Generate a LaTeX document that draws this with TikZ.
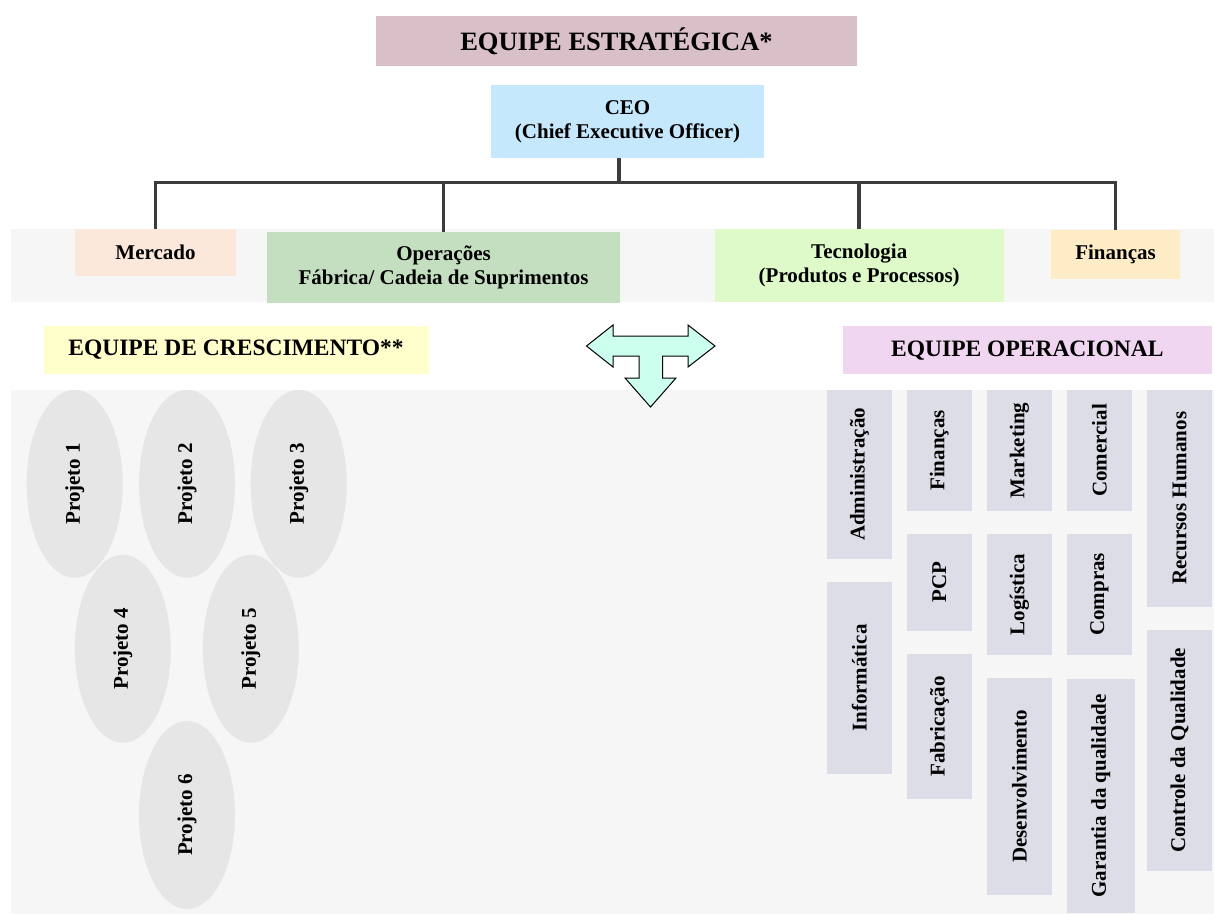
\documentclass[tikz,border=0pt]{standalone}
\usepackage{fontspec}
\setmainfont{Liberation Serif}
\usetikzlibrary{shapes.geometric}
\definecolor{bandgray}{HTML}{F6F6F6}
\definecolor{titlecol}{HTML}{D8BFC8}
\definecolor{ceocol}{HTML}{C6E8FC}
\definecolor{mercol}{HTML}{FBE8DA}
\definecolor{opscol}{HTML}{C4DFC0}
\definecolor{teccol}{HTML}{DEFAC8}
\definecolor{fincol}{HTML}{FDECC6}
\definecolor{growcol}{HTML}{FFFFCC}
\definecolor{opercol}{HTML}{F0D6F0}
\definecolor{arrowcol}{HTML}{CCFFEE}
\definecolor{deptcol}{HTML}{DDDDE8}
\definecolor{projcol}{HTML}{E6E6E6}
\definecolor{linecol}{HTML}{3C3C3C}
\begin{document}
\begin{tikzpicture}[x=1pt,y=-1pt,
  txt/.style={font=\fontsize{21}{24}\selectfont\bfseries},
  box/.style={rectangle, inner sep=0pt, align=center, txt},
  head/.style={box, font=\fontsize{23.5}{26}\selectfont\bfseries},
  dept/.style={box, fill=deptcol, rotate=90},
  proj/.style={ellipse, fill=projcol, inner sep=0pt, rotate=90, txt,
               minimum width=188pt, minimum height=96pt},
  conn/.style={draw=linecol, line width=3.5pt}]
\useasboundingbox (0,0) rectangle (1214,914);

% background bands
\fill[bandgray] (11,229) rectangle (1214,302);
\fill[bandgray] (11,390) rectangle (1214,914);

% strategic team
\node[box, fill=titlecol, minimum width=481pt, minimum height=50pt,
      font=\fontsize{26.5}{30}\selectfont\bfseries] (title) at (616.5,41) {EQUIPE ESTRATÉGICA*};
\node[box, fill=ceocol, minimum width=273pt, minimum height=73pt] (ceo) at (627.5,121.5)
  {CEO\\(Chief Executive Officer)};

\node[box, fill=mercol, minimum width=161pt, minimum height=47pt] (merc) at (155.5,252.5) {Mercado};
\node[box, fill=opscol, minimum width=353pt, minimum height=71pt] (ops) at (443.5,267.5)
  {Operações\\Fábrica/ Cadeia de Suprimentos};
\node[box, fill=teccol, minimum width=289pt, minimum height=72.7pt] (tec) at (859.2,265.35)
  {Tecnologia\\(Produtos e Processos)};
\node[box, fill=fincol, minimum width=129pt, minimum height=49pt] (fin) at (1115.5,254.5) {Finanças};

% reporting lines
\coordinate (bus) at (619,182.5);
\draw[conn] (bus |- ceo.south) -- (bus);
\draw[conn] (merc.north) |- (bus) -| (fin.north);
\draw[conn] (ops.north) -- (ops.north |- bus);
\draw[conn] (tec.north) -- (tec.north |- bus);

% section headers
\node[head, fill=growcol, minimum width=385pt, minimum height=48.3pt] (grow) at (236,349.85)
  {EQUIPE DE CRESCIMENTO**};
\node[head, fill=opercol, minimum width=369.3pt, minimum height=48.3pt] (oper) at (1027.35,350.15)
  {EQUIPE OPERACIONAL};

% three-way arrow
\draw[fill=arrowcol, draw=black, line width=1pt, line join=miter]
  (613,325) -- (586.5,346) -- (613,367) -- (613,356) -- (639,356) -- (639,378)
  -- (625,378) -- (650.5,407) -- (676,378) -- (662.6,378) -- (662.6,356)
  -- (688,356) -- (688,367) -- (715,346) -- (688,325) -- (688,336)
  -- (613,336) -- cycle;

% growth projects
\node[proj] (p1) at (74.7,483.8) {Projeto 1};
\node[proj] (p2) at (187,483.8) {Projeto 2};
\node[proj] (p3) at (298.7,483.8) {Projeto 3};
\node[proj] (p4) at (122.8,648.7) {Projeto 4};
\node[proj] (p5) at (250.8,648.7) {Projeto 5};
\node[proj] (p6) at (187,815) {Projeto 6};

% operational departments (width = box height, height = box width)
\node[dept, minimum width=168.7pt, minimum height=65.3pt] (adm) at (859.35,474.35) {Administração};
\node[dept, minimum width=192.6pt, minimum height=65.3pt] (inf) at (859.35,678) {Informática};
\node[dept, minimum width=121pt, minimum height=65.3pt] (fin2) at (939.35,450.5) {Finanças};
\node[dept, minimum width=96.7pt, minimum height=65.3pt] (pcp) at (939.35,582.35) {PCP};
\node[dept, minimum width=144.7pt, minimum height=65.3pt] (fab) at (939.35,726.35) {Fabricação};
\node[dept, minimum width=121pt, minimum height=65pt] (mkt) at (1019.5,450.5) {Marketing};
\node[dept, minimum width=120.7pt, minimum height=65pt] (log) at (1019.5,594.35) {Logística};
\node[dept, minimum width=216.7pt, minimum height=65pt] (des) at (1019.5,786.35) {Desenvolvimento};
\node[dept, minimum width=121pt, minimum height=65pt] (com) at (1099.5,450.5) {Comercial};
\node[dept, minimum width=120.7pt, minimum height=65pt] (cpr) at (1099.5,594.35) {Compras};
\node[dept, minimum width=233.7pt, minimum height=67.7pt] (gar) at (1100.85,795.85) {Garantia da qualidade};
\node[dept, minimum width=216.7pt, minimum height=65pt] (rh) at (1179.5,498.35) {Recursos Humanos};
\node[dept, minimum width=240.7pt, minimum height=65pt] (cq) at (1179.5,750.35) {Controle da Qualidade};
\end{tikzpicture}
\end{document}
